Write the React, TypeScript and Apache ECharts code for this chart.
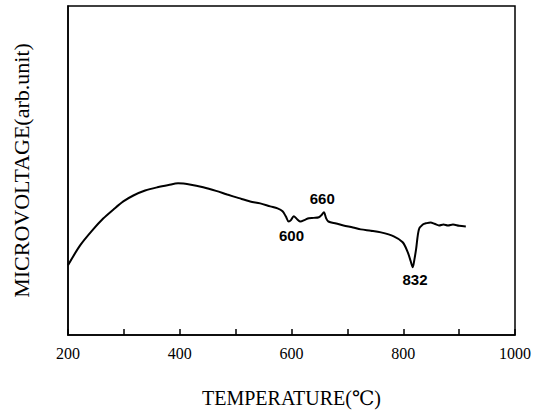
import React, { useEffect, useRef } from "react";
import * as echarts from "echarts";

const temperature = [200, 222, 245, 263, 281, 299, 317, 338, 360, 380, 397, 420, 442, 465, 485, 506, 526, 544, 562, 575, 584, 590, 595, 599, 604, 610, 616, 624, 631, 640, 649, 654, 658, 662, 666, 680, 693, 710, 724, 742, 760, 783, 799, 808, 813, 817, 820, 823, 828, 835, 842, 849, 856, 864, 872, 880, 889, 900, 912];
const microvoltage = [21.2, 27.3, 32.1, 35.4, 38.1, 40.6, 42.4, 43.9, 44.9, 45.6, 46.1, 45.7, 44.9, 43.8, 42.7, 41.6, 40.6, 40.0, 39.1, 38.5, 37.6, 36.0, 34.5, 34.9, 36.1, 35.2, 34.5, 35.0, 35.5, 35.6, 35.8, 36.5, 37.3, 35.5, 34.5, 33.9, 33.3, 32.7, 32.1, 31.7, 31.2, 30.0, 28.2, 25.2, 22.6, 20.6, 23.0, 26.1, 32.1, 33.6, 34.0, 34.2, 33.8, 33.3, 33.6, 33.3, 33.6, 33.2, 33.0];
const peakLabels = [
  { text: "600", t: 600, v: 30.3 },
  { text: "660", t: 655, v: 41.5 },
  { text: "832", t: 821, v: 17.0 },
];
const xTickValues = [200, 400, 600, 800, 1000];

export default function App() {
  const ref = useRef<HTMLDivElement>(null);
  useEffect(() => {
    document.body.style.margin = "0";
    if (!ref.current) return;
    const chart = echarts.init(ref.current, null, { renderer: "svg" });
    const serif = "'Liberation Serif', 'DejaVu Serif', serif";
    chart.setOption({
      animation: false,
      backgroundColor: "#ffffff",
      grid: {
        left: 68,
        right: 22,
        top: 6,
        bottom: 77,
        show: true,
        borderColor: "#000",
        borderWidth: 1.5,
      },
      xAxis: {
        type: "value",
        min: 200,
        max: 1000,
        interval: 100,
        name: "TEMPERATURE(℃)",
        nameLocation: "middle",
        nameGap: 53,
        nameTextStyle: { fontFamily: serif, fontSize: 20, color: "#000" },
        axisLine: { show: true, lineStyle: { color: "#000", width: 1.5 } },
        axisTick: { show: true, inside: true, length: 6, lineStyle: { color: "#000", width: 1.5 } },
        axisLabel: {
          fontFamily: serif,
          fontSize: 16,
          color: "#000",
          margin: 10,
          formatter: (v: number) => (xTickValues.includes(v) ? String(v) : ""),
        },
        splitLine: { show: false },
      },
      yAxis: {
        type: "value",
        min: 0,
        max: 100,
        name: "MICROVOLTAGE(arb.unit)",
        nameLocation: "middle",
        nameGap: 36,
        nameTextStyle: { fontFamily: serif, fontSize: 22, color: "#000" },
        axisLine: { show: true, lineStyle: { color: "#000", width: 1.5 } },
        axisTick: { show: false },
        axisLabel: { show: false },
        splitLine: { show: false },
      },
      series: [
        {
          type: "line",
          data: temperature.map((t, i) => [t, microvoltage[i]]),
          showSymbol: false,
          smooth: 0.3,
          lineStyle: { color: "#000", width: 2 },
          markPoint: {
            symbol: "circle",
            symbolSize: 0,
            label: {
              show: true,
              formatter: (p: any) => p.name,
              fontFamily: "'Liberation Sans', Arial, sans-serif",
              fontWeight: "bold",
              fontSize: 15,
              color: "#000",
            },
            data: peakLabels.map((p) => ({ name: p.text, coord: [p.t, p.v] })),
          },
        },
      ],
    });
    return () => chart.dispose();
  }, []);
  return <div ref={ref} style={{ width: 537, height: 413 }} />;
}
